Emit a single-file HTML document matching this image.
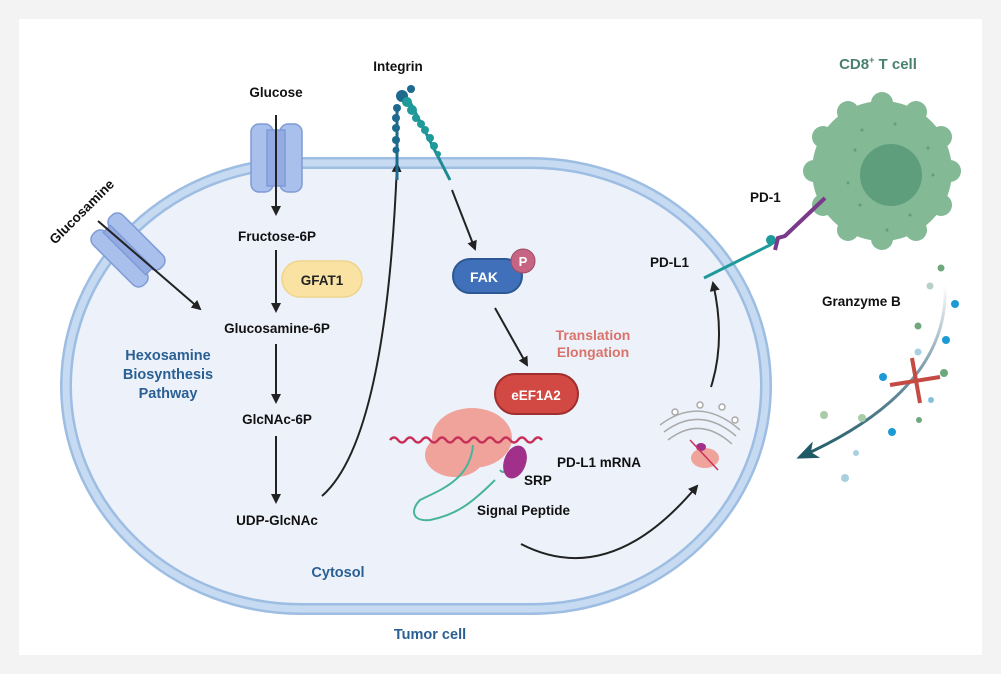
<!DOCTYPE html>
<html><head><meta charset="utf-8"><style>
html,body{margin:0;padding:0;background:#f3f3f3;}
svg{display:block}
text{font-family:"Liberation Sans",Arial,sans-serif;font-weight:bold;}
</style></head><body>
<svg width="1001" height="674" viewBox="0 0 1001 674" xmlns="http://www.w3.org/2000/svg">
<defs>
<marker id="ah" markerWidth="10" markerHeight="10" refX="8" refY="5" orient="auto" markerUnits="userSpaceOnUse"><path d="M0,0 L10,5 L0,10 z" fill="#222"/></marker>
<marker id="ah2" markerWidth="22" markerHeight="18" refX="18" refY="9" orient="auto" markerUnits="userSpaceOnUse"><path d="M0,0 L22,9 L0,18 L6,9 z" fill="#1f5a66"/></marker>
<linearGradient id="gz" x1="0" y1="0" x2="0" y2="1"><stop offset="0" stop-color="#ffffff"/><stop offset="0.5" stop-color="#7a9aa8"/><stop offset="1" stop-color="#1f5a66"/></linearGradient>
</defs>
<rect x="0" y="0" width="1001" height="674" fill="#f3f3f3"/>
<rect x="19" y="19" width="963" height="636" fill="#ffffff"/>
<!-- cell -->
<rect x="66" y="163" width="700" height="446" rx="235" ry="223" fill="#edf2fa" stroke="#9dbde3" stroke-width="12"/>
<rect x="66" y="163" width="700" height="446" rx="235" ry="223" fill="none" stroke="#c6daf1" stroke-width="7"/>
<!-- glucose transporter -->
<g fill="#a9c0ec" stroke="#7f9bd6" stroke-width="1.5">
<rect x="251" y="124" width="22" height="68" rx="8"/><rect x="280" y="124" width="22" height="68" rx="8"/>
<rect x="267" y="130" width="18" height="56" fill="#93abe2"/>
</g>
<!-- glucosamine transporter -->
<g transform="translate(128,250) rotate(45)" fill="#a9c0ec" stroke="#7f9bd6" stroke-width="1.5">
<rect x="-36" y="-21" width="72" height="18" rx="8"/><rect x="-36" y="3" width="72" height="18" rx="8"/>
<rect x="-30" y="-5" width="60" height="10" fill="#93abe2"/>
</g>
<!-- arrows -->
<g stroke="#222" stroke-width="2" fill="none" marker-end="url(#ah)">
<line x1="276" y1="115" x2="276" y2="214"/>
<line x1="276" y1="250" x2="276" y2="311"/>
<line x1="276" y1="344" x2="276" y2="402"/>
<line x1="276" y1="436" x2="276" y2="502"/>
<line x1="98" y1="221" x2="200" y2="309"/>
<path d="M322,496 Q386,440 397,164"/>
<line x1="452" y1="190" x2="475" y2="249"/>
<line x1="495" y1="308" x2="527" y2="365"/>
<path d="M521,544 Q610,590 697,486"/>
<path d="M711,387 Q726,340 713,283"/>
</g>
<!-- integrin -->
<g fill="#1d6a8e">
<line x1="397" y1="180" x2="397" y2="105" stroke="#1d6a8e" stroke-width="3"/>
<circle cx="402" cy="96" r="6"/><circle cx="411" cy="89" r="4"/><circle cx="397" cy="108" r="4"/><circle cx="396" cy="118" r="4"/><circle cx="396" cy="128" r="4"/><circle cx="396" cy="140" r="4"/><circle cx="396" cy="150" r="3.5"/>
</g>
<g fill="#1f9a9a">
<line x1="410" y1="102" x2="450" y2="180" stroke="#1f8a94" stroke-width="3"/>
<circle cx="407" cy="102" r="5"/><circle cx="412" cy="110" r="5"/><circle cx="416" cy="118" r="4"/><circle cx="421" cy="124" r="4"/><circle cx="425" cy="130" r="4"/><circle cx="430" cy="138" r="4"/><circle cx="434" cy="146" r="4"/><circle cx="438" cy="154" r="3"/>
</g>
<!-- GFAT1 -->
<rect x="282" y="261" width="80" height="36" rx="18" fill="#f9e2a2" stroke="#efd48a" stroke-width="1.5"/>
<text x="322" y="285" font-size="13.5" text-anchor="middle" fill="#222">GFAT1</text>
<!-- FAK -->
<rect x="453" y="259" width="69" height="34" rx="17" fill="#3f70b9" stroke="#2e5796" stroke-width="2"/>
<text x="484" y="282" font-size="14" text-anchor="middle" fill="#fff">FAK</text>
<circle cx="523" cy="261" r="12" fill="#c56583" stroke="#9d4a64" stroke-width="1"/>
<text x="523" y="266" font-size="13" text-anchor="middle" fill="#fff">P</text>
<!-- ribosome -->
<ellipse cx="472" cy="438" rx="40" ry="30" fill="#f0a39b"/>
<ellipse cx="455" cy="455" rx="30" ry="22" fill="#f0a39b"/>
<path d="M435,450 q4,-5 8,0 t8,0 t8,0 t8,0 t8,0 t8,0 t8,0 t8,0 t8,0 t8,0 t8,0 t8,0 t8,0 t8,0 t8,0 t8,0 t8,0 t8,0 t8,0" transform="translate(-45,-10)" stroke="#c8325a" stroke-width="2.5" fill="none"/>
<path d="M473,445 C470,480 440,490 420,500 C410,510 412,522 430,520 C455,515 470,505 495,480" stroke="#48b49a" stroke-width="2" fill="none"/>
<path d="M500,470 q3,4 6,0 t6,0" stroke="#48b49a" stroke-width="2" fill="none"/>
<ellipse cx="515" cy="462" rx="11" ry="17" fill="#a0308a" transform="rotate(20 515 462)"/>
<!-- eEF1A2 -->
<rect x="495" y="374" width="83" height="40" rx="20" fill="#d24944" stroke="#9f2f2e" stroke-width="2"/>
<text x="536" y="400" font-size="13.5" text-anchor="middle" fill="#fff">eEF1A2</text>
<!-- golgi -->
<g stroke="#aaa" stroke-width="1.5" fill="#fff">
<path d="M660,425 Q700,395 740,430" fill="none"/><path d="M664,432 Q700,405 736,436" fill="none"/><path d="M668,440 Q700,415 732,444" fill="none"/>
<circle cx="675" cy="412" r="3"/><circle cx="700" cy="405" r="3"/><circle cx="722" cy="407" r="3"/><circle cx="735" cy="420" r="3"/>
</g>
<ellipse cx="705" cy="458" rx="14" ry="10" fill="#f0a39b"/>
<ellipse cx="701" cy="447" rx="5" ry="4" fill="#a0308a"/>
<path d="M690,440 L718,470" stroke="#c8325a" stroke-width="1.5"/>
<!-- T cell -->
<g fill="#84b995">
<circle cx="882" cy="171" r="70"/>
<circle cx="882" cy="103" r="11"/><circle cx="916" cy="112" r="11"/><circle cx="941" cy="137" r="11"/><circle cx="950" cy="171" r="11"/><circle cx="941" cy="205" r="11"/><circle cx="916" cy="230" r="11"/><circle cx="882" cy="239" r="11"/><circle cx="848" cy="230" r="11"/><circle cx="823" cy="205" r="11"/><circle cx="814" cy="171" r="11"/><circle cx="823" cy="137" r="11"/><circle cx="848" cy="112" r="11"/>
</g>
<circle cx="891" cy="175" r="31" fill="#5e9e7d"/>
<g fill="#5e9e7d"><circle cx="862" cy="130" r="1.5"/><circle cx="855" cy="150" r="1.5"/><circle cx="848" cy="183" r="1.5"/><circle cx="860" cy="205" r="1.5"/><circle cx="887" cy="230" r="1.5"/><circle cx="910" cy="215" r="1.5"/><circle cx="933" cy="175" r="1.5"/><circle cx="928" cy="148" r="1.5"/><circle cx="895" cy="124" r="1.5"/></g>
<!-- PD-L1 / PD-1 -->
<path d="M704,278 L770,245 L777,240" stroke="#1f9a9a" stroke-width="3" fill="none"/>
<circle cx="771" cy="240" r="5" fill="#1f9a9a"/>
<path d="M775,250 L778,238 L785,236 L825,198" stroke="#7a3a8a" stroke-width="4" fill="none"/>
<!-- granzyme -->
<path d="M945,285 Q950,390 800,457" stroke="url(#gz)" stroke-width="3" fill="none" marker-end="url(#ah2)"/>
<line x1="890" y1="385" x2="940" y2="377" stroke="#c44b44" stroke-width="4"/>
<line x1="912" y1="358" x2="920" y2="403" stroke="#c44b44" stroke-width="4"/>
<g>
<circle cx="941" cy="268" r="3.5" fill="#6ea97e"/><circle cx="930" cy="286" r="3.5" fill="#b8d0c8"/><circle cx="955" cy="304" r="4" fill="#1c9ad6"/><circle cx="918" cy="326" r="3.5" fill="#6ea97e"/><circle cx="946" cy="340" r="4" fill="#1c9ad6"/><circle cx="918" cy="352" r="3.5" fill="#a9d0e0"/><circle cx="944" cy="373" r="4" fill="#6ea97e"/><circle cx="883" cy="377" r="4" fill="#1c9ad6"/><circle cx="931" cy="400" r="3" fill="#7fc0e0"/><circle cx="919" cy="420" r="3" fill="#6ea97e"/><circle cx="824" cy="415" r="4" fill="#a8cba8"/><circle cx="862" cy="418" r="4" fill="#a8cba8"/><circle cx="892" cy="432" r="4" fill="#1c9ad6"/><circle cx="856" cy="453" r="3" fill="#a9d0e0"/><circle cx="845" cy="478" r="4" fill="#a9d0e0"/>
</g>
<!-- labels -->
<g fill="#111" font-size="13.5">
<text x="398" y="71" text-anchor="middle">Integrin</text>
<text x="276" y="97" text-anchor="middle">Glucose</text>
<text x="85" y="215" text-anchor="middle" transform="rotate(-45 85 215)">Glucosamine</text>
<text x="277" y="241" text-anchor="middle">Fructose-6P</text>
<text x="277" y="333" text-anchor="middle">Glucosamine-6P</text>
<text x="277" y="424" text-anchor="middle">GlcNAc-6P</text>
<text x="277" y="525" text-anchor="middle">UDP-GlcNAc</text>
<text x="650" y="267">PD-L1</text>
<text x="750" y="202">PD-1</text>
<text x="822" y="306">Granzyme B</text>
<text x="557" y="467">PD-L1 mRNA</text>
<text x="524" y="485">SRP</text>
<text x="477" y="515">Signal Peptide</text>
</g>
<g fill="#2a5f94" font-size="14.5" text-anchor="middle">
<text x="168" y="360">Hexosamine</text><text x="168" y="379">Biosynthesis</text><text x="168" y="398">Pathway</text>
<text x="338" y="577">Cytosol</text>
<text x="430" y="639">Tumor cell</text>
</g>
<g fill="#d9736b" font-size="14" text-anchor="middle">
<text x="593" y="340">Translation</text><text x="593" y="357">Elongation</text>
</g>
<text x="878" y="69" text-anchor="middle" font-size="15" fill="#4a8070">CD8<tspan font-size="9" dy="-6">+</tspan><tspan dy="6"> T cell</tspan></text>
</svg>
</body></html>
